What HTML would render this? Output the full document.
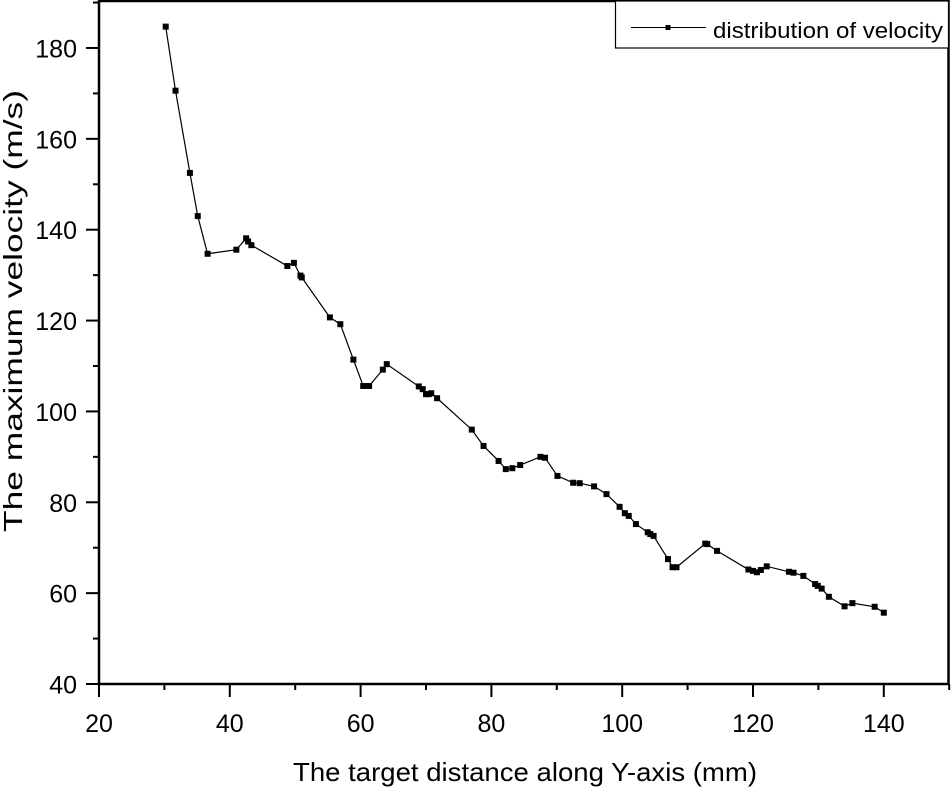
<!DOCTYPE html>
<html><head><meta charset="utf-8"><style>
body{margin:0;background:#fff}
svg text{font-family:"Liberation Sans",Arial,sans-serif;fill:#000}
</style></head><body>
<svg width="952" height="790" xmlns="http://www.w3.org/2000/svg">
<g id="ticks"></g>
<g id="series"></g>
<rect x="99" y="1" width="849.5" height="683" fill="none" stroke="#000" stroke-width="2.5"/>
<g>
<rect x="615.5" y="1" width="333" height="47" fill="#fff" stroke="#000" stroke-width="1.2"/>
<line x1="631" y1="27.5" x2="706" y2="27.5" stroke="#000" stroke-width="1"/>
<rect x="665.5" y="25" width="5" height="5" fill="#000"/>
<text x="713" y="38" font-size="22" textLength="230" lengthAdjust="spacingAndGlyphs">distribution of velocity</text>
</g>
<text x="525" y="781" font-size="26" text-anchor="middle" textLength="464" lengthAdjust="spacingAndGlyphs">The target distance along Y-axis (mm)</text>
<text transform="translate(22,311) rotate(-90)" font-size="26" text-anchor="middle" textLength="442" lengthAdjust="spacingAndGlyphs">The maximum velocity (m/s)</text>
</svg>
<script>
const xs=[30.2,31.7,33.9,35.1,36.6,41.0,42.5,42.8,43.3,48.8,49.8,50.8,51.0,55.3,56.9,58.9,60.4,61.3,63.4,64.0,68.9,69.5,70.0,70.4,70.8,71.7,77.0,78.8,81.1,82.2,83.2,84.4,87.5,88.2,90.1,92.5,93.5,95.7,97.6,99.6,100.4,101.0,102.1,103.9,104.3,104.8,107.0,107.7,108.3,112.7,113.0,114.5,119.3,120.0,120.6,121.2,122.1,125.5,126.2,127.7,129.5,129.9,130.5,131.6,134.0,135.2,138.6,140.0];
const ys=[184.7,170.6,152.5,143.0,134.7,135.6,138.1,137.4,136.6,132.0,132.7,129.9,129.5,120.7,119.2,111.4,105.6,105.6,109.2,110.4,105.5,104.9,103.8,103.8,104.0,102.9,96.0,92.4,89.1,87.3,87.5,88.2,90.0,89.8,85.8,84.3,84.2,83.5,81.8,79.0,77.6,77.0,75.2,73.4,73.0,72.6,67.5,65.7,65.7,70.9,70.8,69.3,65.2,64.9,64.6,65.1,65.9,64.7,64.5,63.8,62.0,61.6,61.0,59.2,57.1,57.8,57.0,55.7];
const xTicks=[20,40,60,80,100,120,140];
const yTicks=[40,60,80,100,120,140,160,180];
const X=v=>99+(v-20)*6.54;
const Y=v=>684-(v-40)*4.543;
const NS="http://www.w3.org/2000/svg";
function mk(t,a,p){const e=document.createElementNS(NS,t);for(const k in a)e.setAttribute(k,a[k]);p.appendChild(e);return e;}
const tg=document.getElementById('ticks');
for(let v=20;v<=150;v+=10){const big=v%20===0;
const l=mk('line',{x1:X(v),x2:X(v),y1:684,y2:684+(big?13:6),stroke:'#000','stroke-width':2},tg);

}
xTicks.forEach(v=>{const t=mk('text',{x:X(v),y:732,'font-size':25,'text-anchor':'middle'},tg);t.textContent=v;

});
for(let v=40;v<=190;v+=10){const big=v%20===0;
const l=mk('line',{x1:99-(big?13:6),x2:99,y1:Y(v),y2:Y(v),stroke:'#000','stroke-width':2},tg);

}
yTicks.forEach(v=>{const t=mk('text',{x:77,y:Y(v)+9.5,'font-size':25,'text-anchor':'end'},tg);t.textContent=v;

});
const sg=document.getElementById('series');
const pl=mk('polyline',{points:xs.map((x,i)=>X(x)+','+Y(ys[i])).join(' '),fill:'none',stroke:'#000','stroke-width':1.2},sg);


xs.forEach((x,i)=>{const r=mk('rect',{x:X(x)-3,y:Y(ys[i])-3,width:6,height:6,fill:'#000'},sg);

});
</script>
</body></html>
